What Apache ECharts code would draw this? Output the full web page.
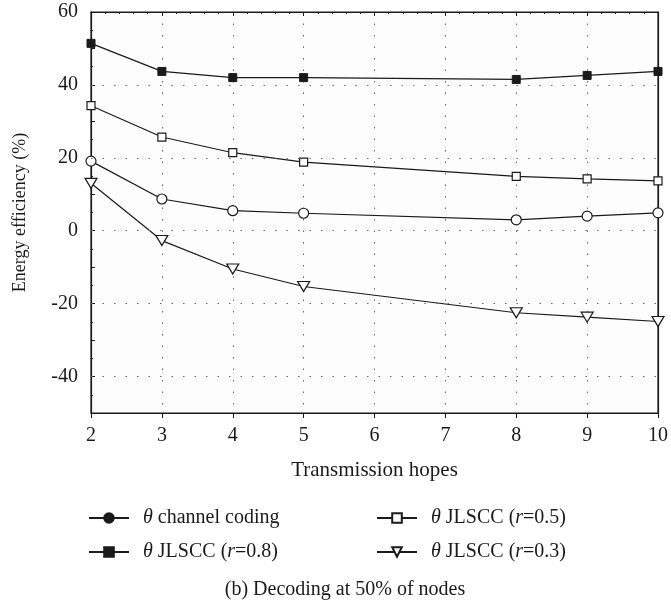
<!DOCTYPE html>
<html>
<head>
<meta charset="utf-8">
<script src="https://cdn.jsdelivr.net/npm/echarts@6/dist/echarts.min.js"></script>
<style>
  html, body { margin: 0; padding: 0; background: #fff; }
  #myChart { width: 671px; height: 607px; }
</style>
</head>
<body>
<div id="myChart"></div>
<script>
// x = transmission hops
let hops = [2, 3, 4, 5, 8, 9, 10];
// energy efficiency (%)
let channelCoding = [19.1, 8.7, 5.5, 4.8, 3.0, 4.0, 4.9];
let jlscc08 = [51.4, 43.7, 42.0, 42.0, 41.5, 42.6, 43.7];
let jlscc05 = [34.3, 25.7, 21.4, 18.8, 14.9, 14.2, 13.7];
let jlscc03 = [13.0, -2.7, -10.5, -15.3, -22.5, -23.7, -24.9];
let xTicks = [2, 3, 4, 5, 6, 7, 8, 9, 10];
let yTicks = [-40, -20, 0, 20, 40, 60];

let names = ['θ channel coding', 'θ JLSCC (r=0.8)', 'θ JLSCC (r=0.5)', 'θ JLSCC (r=0.3)'];
let font = 'Liberation Serif';
let ink = '#1a1a1a';

function pairs(ys) {
    return hops.map((x, i) => [x, ys[i]]);
}

// legend text: θ and r in italics
function legendLabel(name) {
    return name.replace('θ', '{i|θ}').replace('(r=', '({i|r}=');
}

let myChart = echarts.init(document.getElementById('myChart'));

let lineStyle = { color: ink, width: 1.2 };
let dotLine = { color: '#666', type: [1.5, 10], width: 1 };
let legendText = {
    fontFamily: font, fontSize: 20, color: ink, padding: [0, 0, 0, 9],
    rich: { i: { fontFamily: font, fontSize: 20, fontStyle: 'italic', color: ink } }
};

myChart.setOption({
    backgroundColor: '#fff',
    animation: false,
    title: {
        text: '(b) Decoding at 50% of nodes',
        left: 340, textAlign: 'center',
        top: 575,
        textStyle: { fontFamily: font, fontSize: 20, fontWeight: 'normal', color: ink }
    },
    grid: { left: 91, right: 8, top: 12, bottom: 194, show: true, backgroundColor: '#fdfdfd', borderColor: ink, borderWidth: 1.2 },
    legend: [
        {
            data: [
                { name: names[0], itemStyle: { color: ink, borderColor: ink } },
                { name: names[1] }
            ],
            orient: 'vertical', left: 83, top: 503,
            itemWidth: 40, itemHeight: 12, itemGap: 14,
            formatter: legendLabel, textStyle: legendText
        },
        {
            data: [names[2], names[3]],
            orient: 'vertical', left: 371, top: 503,
            itemWidth: 40, itemHeight: 12, itemGap: 14,
            formatter: legendLabel, textStyle: legendText
        }
    ],
    xAxis: [
        {
            type: 'value', min: 2, max: 10, interval: 1,
            name: 'Transmission hopes', nameLocation: 'middle', nameGap: 47,
            nameTextStyle: { fontFamily: font, fontSize: 21, color: ink },
            axisLine: { show: true, onZero: false, lineStyle: { color: ink, width: 1.2 } },
            axisTick: { show: true, length: 5, lineStyle: { color: ink } },
            axisLabel: {
                fontFamily: font, fontSize: 20, color: ink, margin: 13,
                formatter: v => (xTicks.includes(v) ? String(v) : '')
            },
            splitLine: { show: true, lineStyle: dotLine }
        },
        {
            type: 'value', min: 2, max: 10, interval: 1, position: 'top',
            axisLine: { show: true, onZero: false, lineStyle: { color: ink, width: 1.2 } },
            axisTick: { show: true, inside: true, length: 4, lineStyle: { color: ink } },
            minorTick: { show: true, splitNumber: 5, length: 2, lineStyle: { color: ink } },
            axisLabel: { show: false },
            splitLine: { show: false }
        }
    ],
    yAxis: [
        {
            type: 'value', min: -50, max: 60, interval: 10,
            name: 'Energy efficiency (%)', nameLocation: 'middle', nameGap: 62,
            nameTextStyle: { fontFamily: font, fontSize: 18, color: ink },
            axisLine: { show: true, onZero: false, lineStyle: { color: ink, width: 1.2 } },
            axisTick: { show: true, inside: true, length: 4, lineStyle: { color: ink } },
            minorTick: { show: true, splitNumber: 2, length: 2, lineStyle: { color: ink } },
            axisLabel: {
                fontFamily: font, fontSize: 20, color: ink, margin: 13,
                formatter: v => (yTicks.includes(v) ? String(v) : '')
            },
            splitLine: { show: false }
        },
        {
            type: 'value', min: -50, max: 60, interval: 10, position: 'right',
            axisLine: { show: true, onZero: false, lineStyle: { color: ink, width: 1.2 } },
            axisTick: { show: false },
            axisLabel: { show: false },
            splitLine: { show: false }
        }
    ],
    series: [
        {
            name: names[0], type: 'line', data: pairs(channelCoding),
            symbol: 'circle', symbolSize: 10, lineStyle: lineStyle,
            itemStyle: { color: '#fff', borderColor: ink, borderWidth: 1.2 }, z: 3,
            // horizontal dotted grid at the labelled y ticks
            markLine: {
                silent: true, symbol: ['none', 'none'], label: { show: false },
                lineStyle: dotLine, animation: false,
                data: yTicks.filter(v => v < 60).map(v => ({ yAxis: v }))
            }
        },
        {
            name: names[1], type: 'line', data: pairs(jlscc08),
            symbol: 'rect', symbolSize: 8, lineStyle: lineStyle,
            itemStyle: { color: ink, borderColor: ink, borderWidth: 1 }, z: 3
        },
        {
            name: names[2], type: 'line', data: pairs(jlscc05),
            symbol: 'rect', symbolSize: 8, lineStyle: lineStyle,
            itemStyle: { color: '#fff', borderColor: ink, borderWidth: 1.2 }, z: 3
        },
        {
            name: names[3], type: 'line', data: pairs(jlscc03),
            symbol: 'triangle', symbolRotate: 180, symbolSize: [12, 10], lineStyle: lineStyle,
            itemStyle: { color: '#fff', borderColor: ink, borderWidth: 1.2 }, z: 3
        }
    ]
});
</script>
</body>
</html>
